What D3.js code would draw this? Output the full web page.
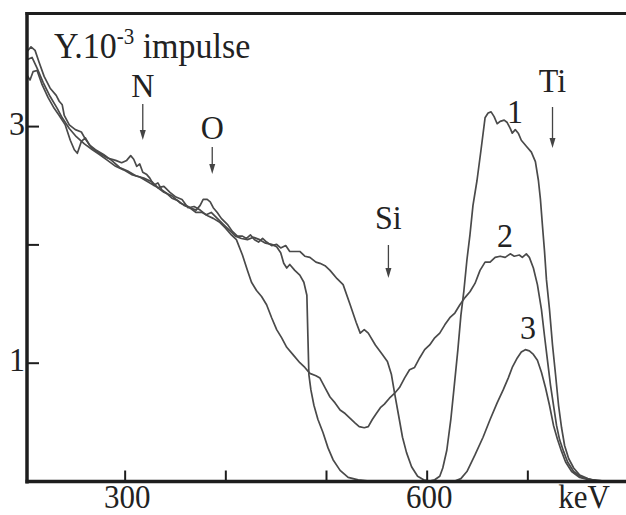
<!DOCTYPE html>
<html>
<head>
<meta charset="utf-8">
<script src="https://cdn.jsdelivr.net/npm/d3@7"></script>
<style>
  html, body { margin: 0; padding: 0; background: #fff; }
  svg { display: block; }
  text { font-family: "Liberation Serif", "DejaVu Serif", serif; fill: #222; }
</style>
</head>
<body>
<svg id="chart" width="626" height="515"></svg>
<script>
// Energy axis (keV) and count axis (×10^3 impulses)
const energyTicks = [300, 400, 500, 600, 700];
const energyTickLabels = ["300", "", "", "600", ""];
const countTicks = [1, 2, 3];
const countTickLabels = ["1", "", "3"];

// Spectrum 1
const energy1 = [203,207,211,215,220,226,232,235,238,240,245,251,257,261,267,275,283,291,297,302,306,309,312,315,318,322,325,329,333,337,342,347,353,359,365,371,375,378,382,385,388,392,396,402,407,412,417,421,425,429,433,437,441,446,451,455,460,464,470,474,479,484,490,494,499,504,511,517,524,530,534,538,542,549,556,561,565,568,572,576,580,585,591,597,603,608,613,616,620,624,627,631,634,637,640,643,646,650,654,658,661,664,667,670,673,677,680,683,685,688,691,694,699,704,708,711,713,715,717,719,722,725,728,731,734,737,741,746,752,760,770,787];
const counts1 = [3.63,3.67,3.64,3.54,3.42,3.32,3.26,3.21,3.18,3.09,3.01,2.97,2.95,2.89,2.82,2.77,2.73,2.71,2.69,2.71,2.75,2.72,2.66,2.68,2.61,2.59,2.56,2.50,2.52,2.46,2.43,2.39,2.37,2.33,2.31,2.29,2.33,2.38,2.38,2.36,2.31,2.27,2.22,2.17,2.11,2.07,2.07,2.05,2.08,2.04,2.02,2.05,2.02,1.99,2.00,1.97,1.99,1.94,1.94,1.94,1.90,1.89,1.85,1.84,1.82,1.78,1.71,1.66,1.49,1.34,1.25,1.28,1.25,1.15,1.07,1.01,0.90,0.75,0.56,0.37,0.24,0.12,0.04,0.01,0.00,0.01,0.04,0.11,0.26,0.52,0.77,1.11,1.40,1.61,1.87,2.08,2.33,2.54,2.80,3.07,3.11,3.12,3.08,3.02,3.04,3.05,3.03,2.98,2.94,2.97,2.94,2.88,2.83,2.78,2.70,2.54,2.38,2.16,1.95,1.70,1.45,1.15,0.90,0.64,0.45,0.30,0.19,0.11,0.05,0.02,0.00,0.00];

// Spectrum 2
const energy2 = [203,208,213,219,226,233,238,245,252,260,268,275,283,291,299,307,315,323,331,339,347,355,363,371,377,383,388,394,400,406,411,417,422,426,431,436,441,446,451,456,461,467,474,479,484,490,494,499,504,509,514,519,524,529,533,538,542,546,550,554,558,563,568,573,578,583,588,593,598,603,608,613,618,623,628,633,638,643,648,653,658,663,668,673,678,683,687,692,695,699,702,706,710,714,717,720,723,726,729,732,736,740,746,754,764,777];
const counts2 = [3.56,3.58,3.49,3.37,3.25,3.15,3.07,2.98,2.91,2.85,2.80,2.76,2.71,2.66,2.63,2.59,2.57,2.53,2.49,2.44,2.41,2.35,2.32,2.27,2.27,2.24,2.22,2.19,2.14,2.08,2.04,1.91,1.78,1.68,1.61,1.56,1.49,1.38,1.28,1.21,1.13,1.07,1.00,0.96,0.91,0.89,0.87,0.79,0.71,0.66,0.60,0.57,0.53,0.49,0.46,0.45,0.46,0.52,0.57,0.62,0.65,0.70,0.74,0.79,0.87,0.94,0.96,1.04,1.11,1.15,1.21,1.25,1.32,1.38,1.42,1.49,1.55,1.60,1.67,1.78,1.85,1.85,1.89,1.90,1.89,1.92,1.90,1.91,1.89,1.92,1.89,1.80,1.66,1.45,1.23,1.02,0.81,0.64,0.47,0.35,0.25,0.16,0.08,0.03,0.01,0.00];

// Spectrum 3
const energy3 = [203,206,209,213,218,224,230,235,241,246,250,253,257,261,265,271,279,287,295,303,311,319,327,333,339,345,351,357,363,369,375,381,386,392,398,404,410,416,422,428,434,440,446,451,455,458,461,464,469,474,478,481,482,483,485,488,492,497,502,507,514,522,532,543,628,634,640,648,656,663,670,676,681,685,690,694,698,702,706,710,714,718,722,726,730,734,738,744,752,762,777];
const counts3 = [3.43,3.39,3.46,3.47,3.35,3.24,3.15,3.09,3.01,2.88,2.80,2.77,2.87,2.90,2.84,2.80,2.76,2.71,2.65,2.62,2.58,2.56,2.53,2.48,2.49,2.44,2.40,2.38,2.31,2.32,2.29,2.25,2.27,2.22,2.17,2.12,2.07,2.05,2.04,2.06,2.04,2.01,2.00,1.98,1.93,1.84,1.80,1.83,1.78,1.74,1.68,1.57,1.23,0.90,0.77,0.64,0.52,0.41,0.28,0.18,0.09,0.03,0.01,0.00,0.00,0.02,0.08,0.22,0.37,0.52,0.66,0.77,0.87,0.96,1.04,1.09,1.11,1.10,1.07,1.02,0.92,0.79,0.64,0.47,0.35,0.25,0.16,0.08,0.03,0.01,0.00];

// Element surface-edge markers
const elementNames = ["N", "O", "Si", "Ti"];
const elementEnergies = [318, 387, 562, 725];

const spectrumNames = ["1", "2", "3"];

const svg = d3.select("#chart");
const x = d3.scaleLinear().domain([203, 798]).range([27, 626]);
const y = d3.scaleLinear().domain([0, 3.95]).range([481, 13.7]);

const ink = "#1e1e1e";
const curveInk = "#4a4a4a";
const fs = 32;
const stretch = "scale(1,1.05)";

// Spectra
const series = [
  {name: spectrumNames[0], e: energy1, c: counts1},
  {name: spectrumNames[1], e: energy2, c: counts2},
  {name: spectrumNames[2], e: energy3, c: counts3}
];
const line = d3.line().x(d => x(d[0])).y(d => y(d[1]));
svg.append("g").selectAll("path")
  .data(series)
  .join("path")
  .attr("d", s => line(s.e.map((v, i) => [v, s.c[i]])))
  .attr("fill", "none")
  .attr("stroke", curveInk)
  .attr("stroke-width", 1.7)
  .attr("stroke-linejoin", "round");

// Axes: inward ticks
const xAxis = d3.axisBottom(x)
  .tickValues(energyTicks)
  .tickSizeInner(-11).tickSizeOuter(0)
  .tickFormat((d, i) => energyTickLabels[i]);
const gx = svg.append("g").attr("transform", "translate(0,481.5)").call(xAxis);
gx.select(".domain").remove();
gx.selectAll(".tick line").attr("stroke", ink).attr("stroke-width", 2);
gx.selectAll(".tick text")
  .attr("y", 0).attr("dy", null)
  .attr("transform", "translate(2,26.5) scale(1,1.1)")
  .attr("font-size", 31).attr("fill", "#222")
  .attr("font-family", "Liberation Serif, serif");

const yAxis = d3.axisLeft(y)
  .tickValues(countTicks)
  .tickSizeInner(-12).tickSizeOuter(0)
  .tickFormat((d, i) => countTickLabels[i]);
const gy = svg.append("g").attr("transform", "translate(27,0)").call(yAxis);
gy.select(".domain").remove();
gy.selectAll(".tick line").attr("stroke", ink).attr("stroke-width", 2);
gy.selectAll(".tick text")
  .attr("x", 0).attr("dy", null).attr("text-anchor", "middle")
  .attr("transform", "translate(-10,8) " + stretch)
  .attr("font-size", fs).attr("fill", "#222")
  .attr("font-family", "Liberation Serif, serif");

// Frame
const frame = svg.append("g").attr("stroke", ink).attr("stroke-width", 3.5);
frame.append("line").attr("x1", 27).attr("x2", 27).attr("y1", 12).attr("y2", 483.5);
frame.append("line").attr("x1", 25.5).attr("x2", 626).attr("y1", 13.5).attr("y2", 13.5).attr("stroke-width", 3);
frame.append("line").attr("x1", 25.5).attr("x2", 626).attr("y1", 481.5).attr("y2", 481.5);

// Axis titles
svg.append("text")
  .attr("transform", "translate(584,508) scale(1,1.1)")
  .attr("text-anchor", "middle").attr("font-size", 31).text("keV");

const title = svg.append("text")
  .attr("transform", "translate(54,58) " + stretch)
  .attr("font-size", 34);
title.append("tspan").text("Y.10");
title.append("tspan").attr("font-size", 21).attr("dy", -13).text("-3");
title.append("tspan").attr("dy", 13).text(" impulse");

// Element markers: label plus downward arrow
const labelY = [86, 128, 218, 81];
const arrowTop = [104, 147, 245, 107];
const arrowBottom = [140, 174, 278, 148];
const marks = svg.append("g");
elementNames.forEach((nm, i) => {
  const ex = x(elementEnergies[i]);
  marks.append("text")
    .attr("transform", `translate(${ex},${labelY[i] + 11}) ${stretch}`)
    .attr("text-anchor", "middle").attr("font-size", fs).text(nm);
  marks.append("line")
    .attr("x1", ex).attr("x2", ex)
    .attr("y1", arrowTop[i]).attr("y2", arrowBottom[i] - 6)
    .attr("stroke", "#444").attr("stroke-width", 1.3);
  marks.append("path")
    .attr("d", `M${ex - 3},${arrowBottom[i] - 10} L${ex + 3},${arrowBottom[i] - 10} L${ex},${arrowBottom[i]} Z`)
    .attr("fill", "#444");
});

// Spectrum numbers
const numberPos = [[515, 112], [505, 236], [528, 328]];
spectrumNames.forEach((nm, i) => {
  svg.append("text")
    .attr("transform", `translate(${numberPos[i][0]},${numberPos[i][1] + 11}) ${stretch}`)
    .attr("text-anchor", "middle").attr("font-size", fs).text(nm);
});
</script>
</body>
</html>
